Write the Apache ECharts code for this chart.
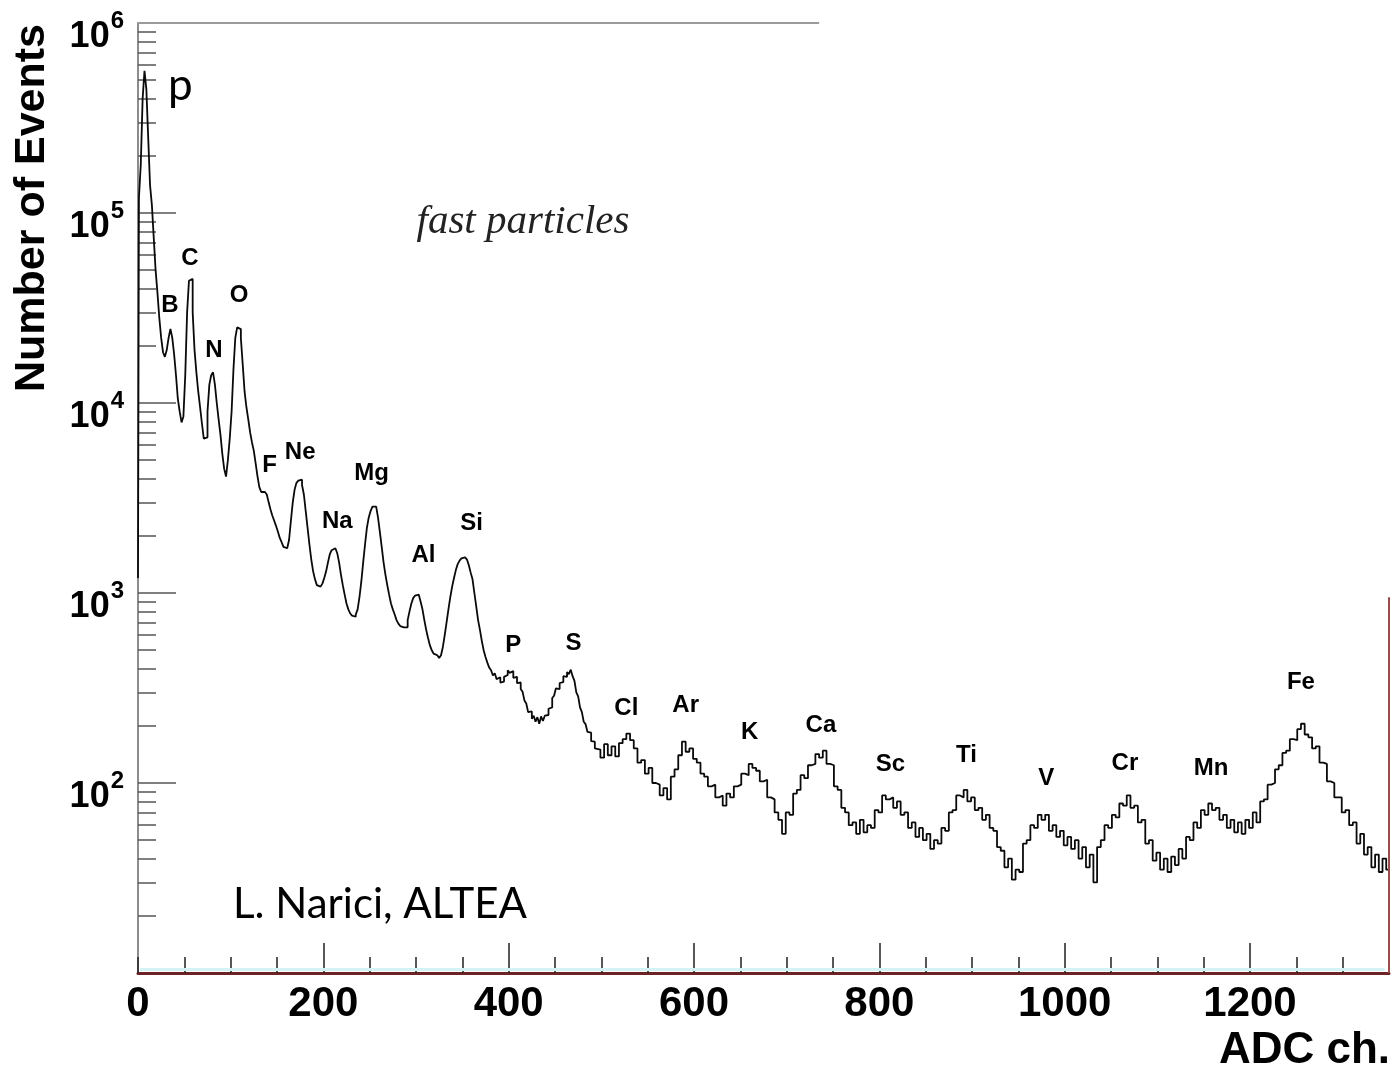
<!DOCTYPE html>
<html>
<head>
<meta charset="utf-8">
<script src="https://cdn.jsdelivr.net/npm/echarts@6/dist/echarts.min.js"></script>
<style>
html,body{margin:0;padding:0;background:#fff;}
#chart{width:1394px;height:1076px;}
</style>
</head>
<body>
<div id="chart"></div>
<script>
// ---- axis ticks / labels ----
const xTickLabels = [0, 200, 400, 600, 800, 1000, 1200];
const xMajorTicks = [200, 400, 600, 800, 1000, 1200];
const yDecadeTicks = [100, 1000, 10000, 100000, 1000000];
const yDecadeLabels = [100, 1000, 10000, 100000, 1000000];
const yMinorTicks = [
  20,30,40,50,60,70,80,90,
  200,300,400,500,600,700,800,900,
  2000,3000,4000,5000,6000,7000,8000,9000,
  20000,30000,40000,50000,60000,70000,80000,90000,
  200000,300000,400000,500000,600000,700000,800000,900000
];

// ---- spectrum: [ADC channel, number of events] ----
const spectrumLight = [
[0,1200],[1,120000],[3,180000],[5,400000],[7,560000],[9,450000],[11,250000],[13,140000],[15,110000],[17,74000],
[19,50000],[21,38000],[23,28000],[25,22000],[27,18500],[29,17500],[31,19000],[33,22000],[35,24500],[37,22000],
[39,18000],[41,14000],[43,10500],[45,9000],[47,7900],[49,8500],[51,14000],[53,30000],[55,44000],[57,45000],
[59,30000],[61,19000],[63,14500],[65,11500],[67,9500],[69,7800],[71,6500],[73,6600],[75,9000],[77,12500],
[79,14000],[81,14500],[83,12500],[85,10000],[87,8200],[89,6800],[91,5400],[93,4500],[95,4100],[97,5000],
[99,6500],[101,9000],[103,15000],[105,22000],[107,25000],[109,24500],[111,22000],[113,16000],[115,11500],[117,9500],
[119,8200],[121,7000],[123,6200],[125,5600],[127,4800],[129,4100],[131,3600],[133,3400],[135,3400],[137,3450],
[139,3300],[141,3000],[143,2750],[145,2550],[147,2400],[149,2250],[151,2100],[153,1950],[155,1850],[157,1750],
[159,1720],[161,1750],[163,1900],[165,2400],[167,3000],[169,3500],[171,3800],[173,3900],[175,3950],[177,3700],
[179,3300],[181,2700],[183,2200],[185,1800],[187,1500],[189,1300],[191,1180],[193,1100],[195,1080],[197,1080],
[199,1120],[201,1200],[203,1300],[205,1450],[207,1600],[209,1680],[211,1720],[213,1700],[215,1620],[217,1450],
[219,1250],[221,1100],[223,980],[225,880],[227,820],[229,780],[231,760],[233,750],[235,770],[237,820],
[239,950],[241,1150],[243,1450],[245,1800],[247,2200],[249,2500],[251,2700],[253,2850],[255,2850],[257,2800],
[259,2500],[261,2100],[263,1750],[265,1450],[267,1250],[269,1100],[271,980],[273,880],[275,820],[277,770],
[279,720],[281,690],[283,670],[285,660],[287,650],[289,660],[291,720],[293,800],[295,880],[297,940],
[299,970],[301,980],[303,960],[305,900],[307,820],[309,720],[311,640],[313,580],[315,530],[317,500],
[319,480],[321,470],[323,460],[325,455],[327,470],[329,520],[331,600],[333,700],[335,820],[337,950],
[339,1080],[341,1200],[343,1320],[345,1420],[347,1480],[349,1520],[351,1540],[353,1550],[355,1500],[357,1400],
[359,1280],[361,1180],[363,1000],[365,850],[367,720],[369,640],[371,560],[373,500],[375,460],[377,430],
[379,405],[381,392],[383,368],[385,378],[387,352],[389,360],[391,338],[393,342],[395,362],[397,370],
[399,392],[401,380],[403,388],[405,358],[407,362],[409,335],[411,338],[413,312],[415,302],[417,272],
[419,262],[421,236],[423,238],[425,218],[427,226],[429,210],[431,222],[433,205],[435,224],[437,212],
[439,226],[441,228],[443,246],[445,250],[447,280],[449,288],[451,315],[453,312],[455,336],[457,340],
[459,365],[461,362],[463,384],[465,374],[467,395],[469,365],[471,345],[473,300],[475,286],[477,250],
[479,236],[481,210],[483,204],[485,186],[487,184],[489,166],[491,165],[493,152]
];
const spectrumHeavy = [
[495,150],[499,136],[503,160],[507,140],[511,156],[515,138],[519,162],[523,170],[527,182],[531,168],
[535,152],[539,128],[543,132],[547,112],[551,120],[555,100],[559,98],[563,86],[567,94],[571,82],
[575,108],[579,118],[583,140],[587,165],[591,146],[595,152],[599,134],[603,128],[607,112],[611,108],
[615,96],[619,98],[623,84],[627,86],[631,76],[635,88],[639,84],[643,96],[647,98],[651,112],
[655,110],[659,126],[663,120],[667,116],[671,102],[675,104],[679,84],[683,82],[687,70],[691,64],
[695,54],[699,70],[703,68],[707,88],[711,92],[715,110],[719,106],[723,124],[727,126],[731,142],
[735,136],[739,148],[743,126],[747,124],[751,96],[755,92],[759,74],[763,70],[767,60],[771,62],
[775,54],[779,64],[783,55],[787,60],[791,58],[795,72],[799,70],[803,86],[807,82],[811,84],
[815,74],[819,80],[823,68],[827,70],[831,58],[835,62],[839,52],[843,58],[847,50],[851,54],
[855,45],[859,50],[863,48],[867,58],[871,56],[875,70],[879,72],[883,86],[887,84],[891,92],
[895,80],[899,84],[903,72],[907,74],[911,64],[915,68],[919,58],[923,56],[927,46],[931,44],
[935,36],[939,40],[943,31],[947,35],[951,34],[955,48],[959,50],[963,60],[967,58],[971,68],
[975,64],[979,68],[983,56],[987,60],[991,52],[995,56],[999,47],[1003,52],[1007,45],[1011,50],
[1015,40],[1019,46],[1023,36],[1027,42],[1031,30],[1035,46],[1039,50],[1043,60],[1047,58],[1051,68],
[1055,66],[1059,78],[1063,76],[1067,86],[1071,74],[1075,76],[1079,62],[1083,64],[1087,48],[1091,50],
[1095,39],[1099,43],[1103,35],[1107,40],[1111,34],[1115,41],[1119,37],[1123,45],[1127,40],[1131,52],
[1135,50],[1139,62],[1143,58],[1147,72],[1151,68],[1155,78],[1159,72],[1163,74],[1167,64],[1171,68],
[1175,58],[1179,64],[1183,55],[1187,62],[1191,54],[1195,64],[1199,58],[1203,70],[1207,62],[1211,80],
[1215,82],[1219,98],[1223,100],[1227,118],[1231,124],[1235,144],[1239,148],[1243,170],[1247,168],[1251,192],
[1255,205],[1259,180],[1263,174],[1267,152],[1271,156],[1275,128],[1279,126],[1283,102],[1287,100],[1291,84],
[1295,84],[1299,70],[1303,72],[1307,60],[1311,62],[1315,48],[1319,54],[1323,42],[1327,46],[1331,36],
[1335,42],[1339,34],[1343,40],[1347,35],[1350,35]
];

// ---- peak labels: [channel, events, element] ----
const elementLabels = [
[34.5,32800,'B'],[56,57900,'C'],[82,19000,'N'],[109,37000,'O'],[142,4720,'F'],[175,5520,'Ne'],
[215,2370,'Na'],[252,4280,'Mg'],[308,1585,'Al'],[360,2335,'Si'],[405,532,'P'],[470,545,'S'],
[527,248,'Cl'],[591,257,'Ar'],[660,185,'K'],[737,202,'Ca'],[812,126,'Sc'],[894,139,'Ti'],
[980,106,'V'],[1065,127,'Cr'],[1158,120,'Mn'],[1255,340,'Fe']
];

const spectrum = spectrumLight.concat(spectrumHeavy);
const chart = echarts.init(document.getElementById('chart'), null, {renderer:'canvas'});
const AX = 'Liberation Sans';

chart.setOption({
  animation: false,
  backgroundColor: '#fff',
  grid: {left: 138, right: 5, top: 23, bottom: 103, containLabel: false, outerBoundsMode: 'none'},
  xAxis: [{
    type: 'value', min: 0, max: 1350, position: 'bottom',
    axisLine: {show: true, onZero: false, lineStyle: {color: '#6b2323', width: 3}},
    axisTick: {show: true, inside: true, length: 30, customValues: xMajorTicks, lineStyle: {color: '#222', width: 1.5}},
    axisLabel: {show: true, customValues: xTickLabels, color: '#000', fontFamily: AX, fontWeight: 'bold', fontSize: 42, margin: 10,
      formatter: function (v) { return String(v); }},
    splitLine: {show: false}
  }, {
    type: 'value', min: 0, max: 1350, interval: 50, position: 'bottom',
    axisLine: {show: false, onZero: false},
    axisTick: {show: true, inside: true, length: 16, lineStyle: {color: '#222', width: 1.5}},
    axisLabel: {show: false},
    splitLine: {show: false}
  }],
  yAxis: [{
    type: 'log', logBase: 10, min: 10, max: 1000000, position: 'left',
    axisLine: {show: true, onZero: false, lineStyle: {color: '#8c8c8c', width: 2}},
    axisTick: {show: true, inside: true, length: 38, customValues: yDecadeTicks, lineStyle: {color: '#555', width: 1.5}},
    axisLabel: {
      show: true, customValues: yDecadeLabels, margin: 14,
      formatter: function (v) { return '{b|10}{s|' + Math.round(Math.log10(v)) + '}'; },
      rich: {
        b: {fontFamily: AX, fontWeight: 'bold', fontSize: 36, color: '#000', lineHeight: 40, padding: [28, 0, 0, 0]},
        s: {fontFamily: AX, fontWeight: 'bold', fontSize: 24, color: '#000', lineHeight: 30, verticalAlign: 'top', padding: [6, 0, 0, 1]}
      }
    },
    splitLine: {show: false},
    minorTick: {show: false}
  }, {
    type: 'log', logBase: 10, min: 10, max: 1000000, position: 'left',
    axisLine: {show: false, onZero: false},
    axisTick: {show: true, inside: true, length: 18, customValues: yMinorTicks, lineStyle: {color: '#555', width: 1.5}},
    axisLabel: {show: false},
    splitLine: {show: false}
  }],
  series: [{
    type: 'line', xAxisIndex: 0, yAxisIndex: 0,
    data: spectrum, step: 'end', symbol: 'none', clip: false,
    lineStyle: {color: '#0a0a0a', width: 1.8},
    markLine: {
      silent: true, symbol: 'none', label: {show: false}, animation: false,
      data: [
        [{coord: [0, 1000000], lineStyle: {color: '#9a9a9a', width: 2, type: 'solid'}}, {coord: [735, 1000000]}],
        [{coord: [1350, 10], lineStyle: {color: '#9c4b4b', width: 2, type: 'solid'}}, {coord: [1350, 950]}],
        [{coord: [2, 10.5], lineStyle: {color: '#d4f3f7', width: 3, type: 'solid'}}, {coord: [1345, 10.5]}]
      ]
    }
  }, {
    type: 'scatter', xAxisIndex: 0, yAxisIndex: 0,
    data: elementLabels, symbolSize: 0, silent: true,
    itemStyle: {opacity: 1},
    label: {
      show: true, position: 'inside', opacity: 1,
      formatter: function (p) { return p.value[2]; },
      fontFamily: AX, fontWeight: 'bold', fontSize: 24, color: '#000'
    }
  }],
  graphic: [
    {type: 'text', x: 32, y: 208, rotation: Math.PI / 2,
     style: {text: 'Number of Events', font: 'bold 43px "Liberation Sans"', fill: '#000', textAlign: 'center', textVerticalAlign: 'middle'}},
    {type: 'text', x: 1390, y: 1051,
     style: {text: 'ADC ch.', font: 'bold 44px "Liberation Sans"', fill: '#000', textAlign: 'right', textVerticalAlign: 'middle'}},
    {type: 'text', x: 523, y: 222,
     style: {text: 'fast particles', font: 'italic 41px "Liberation Serif"', fill: '#222', textAlign: 'center', textVerticalAlign: 'middle'}},
    {type: 'text', x: 233, y: 904,
     style: {text: 'L. Narici, ALTEA', font: '42px Lato', fill: '#000', textAlign: 'left', textVerticalAlign: 'middle'}},
    {type: 'text', x: 168, y: 86,
     style: {text: 'p', font: '44px Lato', fill: '#000', textAlign: 'left', textVerticalAlign: 'middle'}}
  ]
});
</script>
</body>
</html>
